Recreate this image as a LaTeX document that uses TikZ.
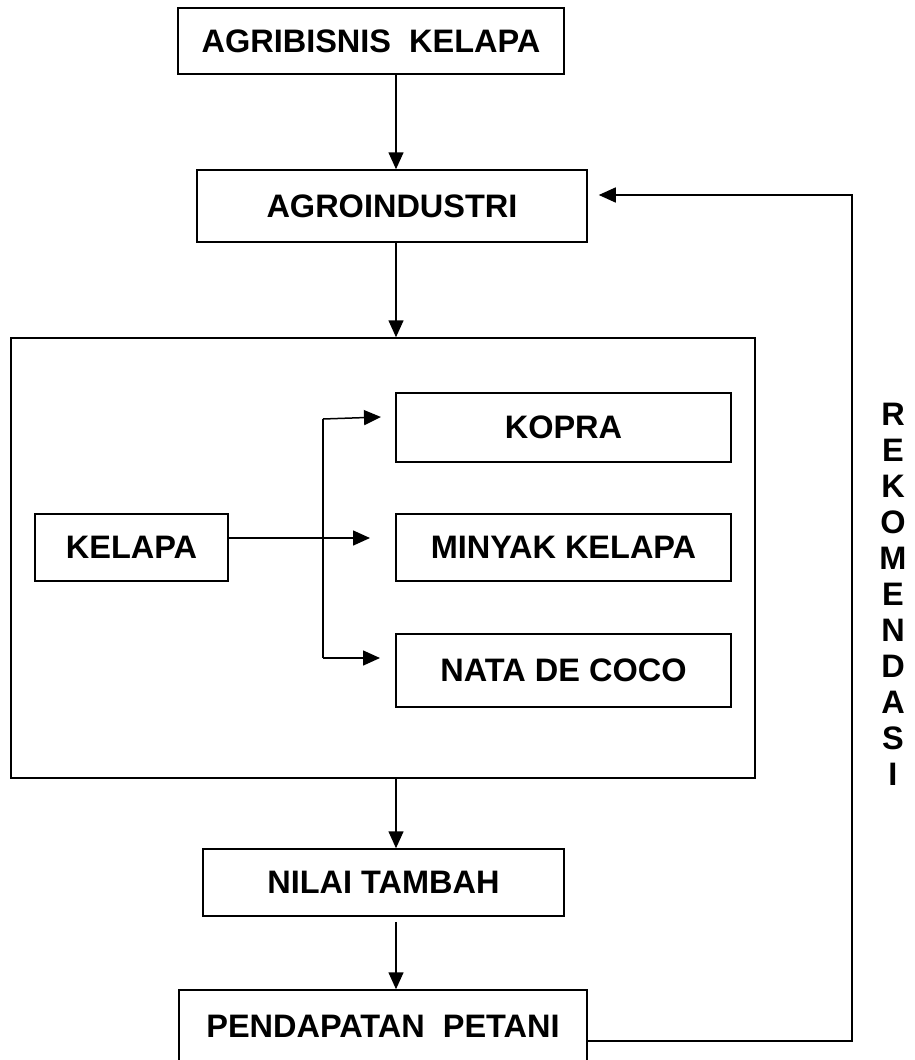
\documentclass[tikz,border=0pt]{standalone}
\usepackage{fontspec}
\setmainfont{Liberation Sans}
\usetikzlibrary{positioning,arrows.meta}
\tikzset{>={Triangle[length=17pt,width=15pt]},
  box/.style={draw,line width=1.5pt,inner sep=0pt,font=\bfseries\fontsize{32.5}{36}\selectfont},
  link/.style={->,line width=1.5pt}}

\begin{document}
\begin{tikzpicture}[x=1pt,y=-1pt]
\useasboundingbox (0,0) rectangle (915,1060);
% main column
\node[box,minimum width=386pt,minimum height=66pt] (agri) at (371,41) {AGRIBISNIS\ \ KELAPA};
\node[box,minimum width=390pt,minimum height=72pt] (agro) at (392,206) {AGROINDUSTRI};
\node[box,minimum width=744pt,minimum height=440pt] (outer) at (383,558) {};
\node[box,minimum width=361pt,minimum height=67pt] (nilai) at (383.5,882.5) {NILAI TAMBAH};
\node[box,minimum width=408pt,minimum height=72pt] (petani) at (383,1026) {PENDAPATAN\ \ PETANI};
% products
\node[box,minimum width=193pt,minimum height=67pt] (kelapa) at (131.5,547.5) {KELAPA};
\node[box,minimum width=335pt,minimum height=69pt] (kopra) at (563.5,427.5) {KOPRA};
\node[box,minimum width=335pt,minimum height=67pt] (minyak) at (563.5,547.5) {MINYAK KELAPA};
\node[box,minimum width=335pt,minimum height=73pt] (nata) at (563.5,670.5) {NATA DE COCO};
\node[font=\bfseries\fontsize{32.5}{36}\selectfont,align=center] (rekom) at (893,594) {R\\E\\K\\O\\M\\E\\N\\D\\A\\S\\I};

\coordinate (spine) at (396,0);
\draw[link] (agri.south -| spine) -- (agro.north -| spine);
\draw[link] (agro.south -| spine) -- (outer.north -| spine);
\draw[link] (outer.south -| spine) -- (nilai.north -| spine);
\draw[link] ([yshift=-5pt]nilai.south -| spine) -- (petani.north -| spine);

% fork to the products
\coordinate (ftop) at (323,419);
\coordinate (fbot) at (323,658);
\coordinate (kopra in) at (381,417);
\coordinate (minyak in) at (370,538);
\coordinate (nata in) at (380,658);
\draw[line width=1.5pt] (ftop) -- (fbot);
\draw[link] (kelapa.east |- minyak in) -- (minyak in);
\draw[link] (ftop) -- (kopra in);
\draw[link] (fbot) -- (nata in);

% feedback
\coordinate (low) at (852,1041);
\coordinate (high) at (852,195);
\draw[link] (petani.east |- low) -- (low) -- (high) -- ([xshift=11pt]agro.east |- high);
\end{tikzpicture}
\end{document}
